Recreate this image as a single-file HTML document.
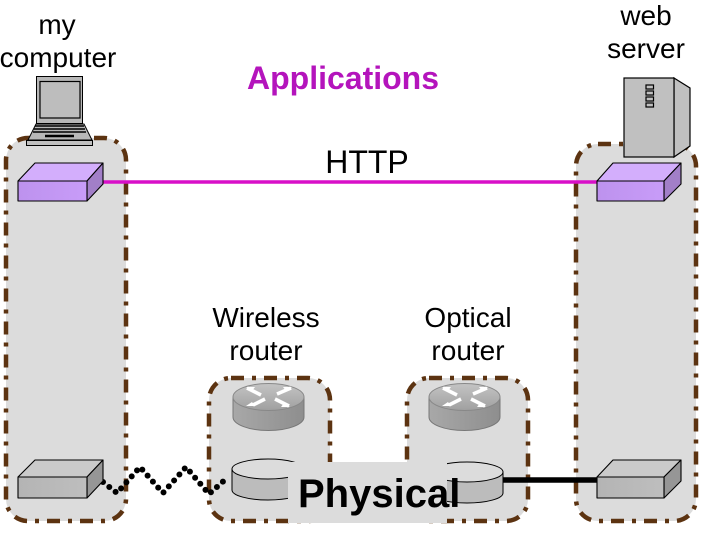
<!DOCTYPE html>
<html><head><meta charset="utf-8"><style>
html,body{margin:0;padding:0;background:#fff;width:720px;height:540px;overflow:hidden}
svg{display:block}
text{font-family:"Liberation Sans",sans-serif;fill:#000}
</style></head><body>
<svg width="720" height="540" viewBox="0 0 720 540" xmlns="http://www.w3.org/2000/svg">
<defs>
<linearGradient id="rt" x1="0" y1="0" x2="0" y2="1"><stop offset="0" stop-color="#c4c4c4"/><stop offset="1" stop-color="#a0a0a0"/></linearGradient>
<linearGradient id="rs" x1="0" y1="0" x2="1" y2="0"><stop offset="0" stop-color="#a8a8a8"/><stop offset="1" stop-color="#8e8e8e"/></linearGradient>
<linearGradient id="pf" x1="0" y1="0" x2="1" y2="0"><stop offset="0" stop-color="#bd92ee"/><stop offset="1" stop-color="#c89cf8"/></linearGradient>
<linearGradient id="gf" x1="0" y1="0" x2="1" y2="0"><stop offset="0" stop-color="#b4b4b4"/><stop offset="1" stop-color="#bebebe"/></linearGradient>
<g id="router">
<path d="M0 16V36A35.500 13.500 0 0 0 71 36V16Z" fill="url(#rs)" stroke="#777" stroke-width="1"/>
<ellipse cx="35.500" cy="16" rx="35.500" ry="13.500" fill="url(#rt)" stroke="#888" stroke-width="1"/>
<path d="M14 7L28 14M20 24L32 18M44 13L58 7M42 18L56 25" stroke="#fff" stroke-width="3.500" fill="none"/>
<path d="M13 6L22 6L19 10ZM59 6L50 6L53 10ZM13 25L22 25L19 21ZM57 26L48 26L51 22Z" fill="#fff"/>
</g>
</defs>

<g fill="#dcdcdc" stroke="#5c3311" stroke-width="4.500" stroke-dasharray="13 8 4 8">
<rect x="6" y="138" width="120" height="383" rx="22"/>
<rect x="576" y="144" width="120" height="377" rx="22"/>
<rect x="209" y="378" width="121" height="143" rx="22"/>
<rect x="407" y="378" width="121" height="143" rx="22"/>
</g>

<!-- lines -->
<line x1="103" y1="182" x2="597" y2="182" stroke="#d80fc8" stroke-width="3.500"/>
<line x1="502" y1="480" x2="597" y2="480" stroke="#000" stroke-width="5.500"/>
<polyline points="103,482 117,493 140,467 163,493 186,467 209,494 227,478" fill="none" stroke="#000" stroke-width="6" stroke-linecap="round" stroke-dasharray="0 8"/>

<!-- purple boxes -->
<g stroke="#000" stroke-width="1.100" stroke-linejoin="round">
<path d="M18 181L35 163H103L87 181Z" fill="#d3aefc"/>
<path d="M87 181L103 163V184L87 201Z" fill="#a27fc8"/>
<rect x="18" y="181" width="69" height="20" fill="url(#pf)"/>
<path d="M597 181L613 163H681L664 181Z" fill="#d3aefc"/>
<path d="M664 181L681 163V184L664 201Z" fill="#a27fc8"/>
<rect x="597" y="181" width="67" height="20" fill="url(#pf)"/>
<!-- grey boxes -->
<path d="M18 477L35 460H103L87 477Z" fill="#cacaca"/>
<path d="M87 477L103 460V481L87 498Z" fill="#969696"/>
<rect x="18" y="477" width="69" height="21" fill="url(#gf)"/>
<path d="M597 477L613 460H681L664 477Z" fill="#cacaca"/>
<path d="M664 477L681 460V481L664 498Z" fill="#969696"/>
<rect x="597" y="477" width="67" height="21" fill="url(#gf)"/>
</g>

<!-- server -->
<g stroke="#000" stroke-width="1.200" fill="#c0c0c0">
<path d="M674 78L690 88V146L674 157Z"/>
<rect x="624" y="78" width="50" height="79"/>
<rect x="646" y="85" width="7.500" height="4" fill="none"/>
<rect x="646" y="91" width="7.500" height="4" fill="none"/>
<rect x="646" y="97" width="7.500" height="4" fill="none"/>
<rect x="646" y="103" width="7.500" height="4" fill="none"/>
</g>

<!-- laptop -->
<g stroke="#000" stroke-width="1">
<rect x="36.500" y="76.500" width="46" height="47" fill="#b8b8b8"/>
<rect x="40" y="81.500" width="40" height="36.500" fill="#bdbdbd" stroke-width="1.200"/>
<path d="M36 124H84L92 140H28Z" fill="#b8b8b8"/>
<rect x="26.500" y="140.500" width="66" height="5" fill="#c0c0c0"/>
<path d="M35 126H84M34 129H85M33 132H86" stroke-width="1.500"/>
<path d="M45 136H74" stroke-width="2.500"/>
</g>

<!-- routers -->
<use href="#router" x="233" y="381"/>
<use href="#router" x="429" y="381"/>

<!-- cylinders -->
<g stroke="#000" stroke-width="1">
<path d="M232 469V490A36 10 0 0 0 304 490V469Z" fill="#bcbcbc"/>
<ellipse cx="268" cy="469" rx="36" ry="10" fill="#dcdcdc"/>
<path d="M431 472V493A36 10 0 0 0 503 493V472Z" fill="#bcbcbc"/>
<ellipse cx="467" cy="472" rx="36" ry="10" fill="#dcdcdc"/>
</g>

<!-- physical band -->
<rect x="288" y="462" width="159" height="61" fill="#dcdcdc"/>

<!-- labels -->
<g font-size="28" text-anchor="middle">
<text x="57" y="34">my</text>
<text x="58" y="67">computer</text>
<text x="646" y="25">web</text>
<text x="646" y="58">server</text>
<text x="367" y="173" font-size="32">HTTP</text>
<text x="266" y="327">Wireless</text>
<text x="266" y="360">router</text>
<text x="468" y="327">Optical</text>
<text x="468" y="360">router</text>
</g>
<text x="247" y="89" font-size="32" font-weight="bold" style="fill:#b414bc">Applications</text>
<text x="298" y="507" font-size="40" font-weight="bold">Physical</text>
</svg>
</body></html>
